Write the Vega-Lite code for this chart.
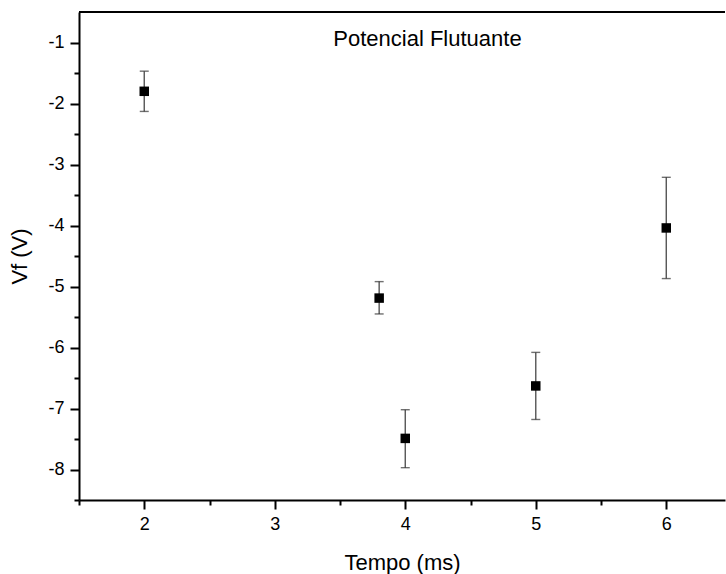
{
  "$schema": "https://vega.github.io/schema/vega-lite/v6.json",
  "width": 646,
  "height": 488,
  "autosize": "none",
  "padding": {"left": 79, "top": 12, "right": 1, "bottom": 74},
  "background": "white",
  "config": {
    "view": {"stroke": null},
    "font": "Liberation Sans",
    "axis": {
      "domainColor": "black",
      "domainWidth": 2,
      "tickColor": "black",
      "tickWidth": 2,
      "grid": false,
      "labelFont": "Liberation Sans",
      "labelFontSize": 17,
      "labelColor": "black",
      "titleFont": "Liberation Sans",
      "titleFontSize": 22,
      "titleFontWeight": "normal",
      "titleColor": "black"
    }
  },
  "data": {
    "values": [
      {"t": 2.0, "vf": -1.80, "lo": -2.13, "hi": -1.47},
      {"t": 3.8, "vf": -5.19, "lo": -5.45, "hi": -4.92},
      {"t": 4.0, "vf": -7.49, "lo": -7.97, "hi": -7.02},
      {"t": 5.0, "vf": -6.63, "lo": -7.18, "hi": -6.08},
      {"t": 6.0, "vf": -4.04, "lo": -4.87, "hi": -3.21}
    ]
  },
  "resolve": {"axis": {"x": "independent", "y": "independent"}},
  "layer": [
    {
      "mark": {"type": "rule", "color": "#555555", "strokeWidth": 1.4},
      "encoding": {
        "x": {
          "field": "t", "type": "quantitative",
          "scale": {"domain": [1.5, 6.45], "nice": false, "zero": false},
          "axis": {
            "orient": "bottom",
            "title": "Tempo (ms)",
            "titlePadding": 19,
            "titleFontSize": 22,
            "values": [2, 3, 4, 5, 6],
            "tickSize": 9,
            "labelFontSize": 18,
            "labelPadding": 6,
            "labelFlush": false,
            "labelOverlap": false
          }
        },
        "y": {
          "field": "lo", "type": "quantitative",
          "scale": {"domain": [-8.5, -0.5], "nice": false, "zero": false},
          "axis": {
            "orient": "left",
            "title": "Vf  (V)",
            "titlePadding": 16,
            "titleFontSize": 22,
            "values": [-8, -7, -6, -5, -4, -3, -2, -1],
            "labelExpr": "'-' + (-datum.value)",
            "tickSize": 9,
            "labelFontSize": 18,
            "labelPadding": 6,
            "labelFlush": false,
            "labelOverlap": false
          }
        },
        "y2": {"field": "hi"}
      }
    },
    {
      "mark": {"type": "tick", "orient": "horizontal", "color": "#333333", "size": 9, "thickness": 1.4},
      "encoding": {
        "x": {
          "field": "t", "type": "quantitative",
          "axis": {
            "orient": "bottom",
            "title": null,
            "labels": false,
            "domain": false,
            "tickSize": 5,
            "values": [1.5, 2.5, 3.5, 4.5, 5.5]
          }
        },
        "y": {
          "field": "lo", "type": "quantitative",
          "axis": {
            "orient": "left",
            "title": null,
            "labels": false,
            "domain": false,
            "tickSize": 5,
            "values": [-8.5, -7.5, -6.5, -5.5, -4.5, -3.5, -2.5, -1.5]
          }
        }
      }
    },
    {
      "mark": {"type": "tick", "orient": "horizontal", "color": "#333333", "size": 9, "thickness": 1.4},
      "encoding": {
        "x": {"field": "t", "type": "quantitative", "axis": null},
        "y": {"field": "hi", "type": "quantitative", "axis": null}
      }
    },
    {
      "mark": {"type": "square", "color": "black", "size": 90, "opacity": 1, "filled": true},
      "encoding": {
        "x": {"field": "t", "type": "quantitative", "axis": null},
        "y": {"field": "vf", "type": "quantitative", "axis": null}
      }
    },
    {
      "mark": {"type": "rule", "color": "black", "strokeWidth": 2},
      "encoding": {"y": {"datum": -0.5, "axis": null}}
    },
    {
      "data": {"values": [{"t": 4.17, "vf": -1.05, "label": "Potencial Flutuante"}]},
      "mark": {"type": "text", "font": "Liberation Sans", "fontSize": 22, "color": "black", "align": "center", "baseline": "alphabetic"},
      "encoding": {
        "x": {"field": "t", "type": "quantitative", "axis": null},
        "y": {"field": "vf", "type": "quantitative", "axis": null},
        "text": {"field": "label"}
      }
    }
  ]
}
